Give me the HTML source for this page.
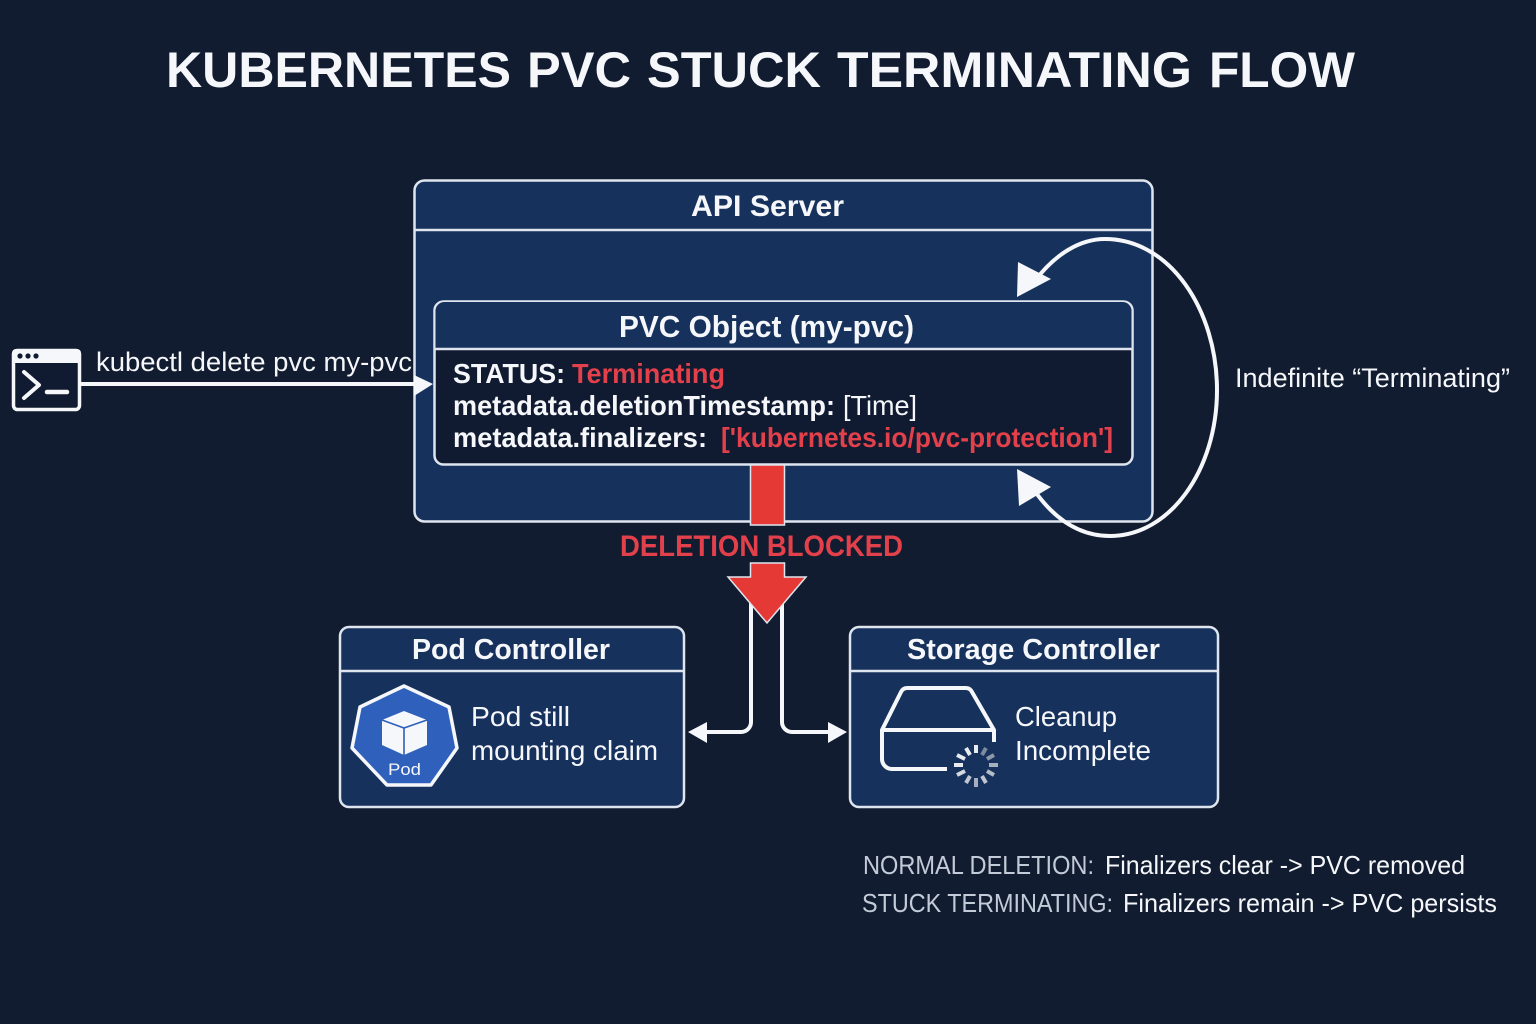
<!DOCTYPE html>
<html>
<head>
<meta charset="utf-8">
<style>
html,body{margin:0;padding:0;background:#121c30;}
svg{display:block;}
text{font-family:"Liberation Sans",sans-serif;fill:#f5f7fa;}
.b{font-weight:bold;}
.r{fill:#e2404a;}
.g{fill:#c3cbd8;}
</style>
</head>
<body>
<svg width="1536" height="1024" viewBox="0 0 1536 1024" xmlns="http://www.w3.org/2000/svg">
<rect width="1536" height="1024" fill="#121c30"/>

<text class="b" font-size="50" y="87"><tspan x="166" textLength="345" lengthAdjust="spacingAndGlyphs">KUBERNETES</tspan> <tspan x="527" textLength="104" lengthAdjust="spacingAndGlyphs">PVC</tspan> <tspan x="647" textLength="174" lengthAdjust="spacingAndGlyphs">STUCK</tspan> <tspan x="837" textLength="355" lengthAdjust="spacingAndGlyphs">TERMINATING</tspan> <tspan x="1209" textLength="146" lengthAdjust="spacingAndGlyphs">FLOW</tspan></text>

<!-- API server -->
<rect x="414.5" y="180.5" width="738" height="341" rx="10" fill="#16315c" stroke="#dfe5ee" stroke-width="2.5"/>
<line x1="415" y1="230" x2="1152" y2="230" stroke="#dfe5ee" stroke-width="2.5"/>
<text class="b" x="691" y="216" font-size="30" textLength="153" lengthAdjust="spacingAndGlyphs">API Server</text>

<!-- PVC -->
<rect x="434.5" y="301.5" width="698" height="163" rx="9" fill="#101a30" stroke="#dfe5ee" stroke-width="2.5"/>
<path d="M435.5 349 V311 a9 9 0 0 1 9 -9 H1122 a9 9 0 0 1 9.5 9 V349 Z" fill="#16315c"/>
<line x1="435" y1="349" x2="1132" y2="349" stroke="#dfe5ee" stroke-width="2.5"/>
<text class="b" x="619" y="337" font-size="31" textLength="295" lengthAdjust="spacingAndGlyphs">PVC Object (my-pvc)</text>
<text class="b" x="453" y="383" font-size="28" textLength="112" lengthAdjust="spacingAndGlyphs">STATUS:</text>
<text class="b r" x="572" y="383" font-size="28" textLength="153" lengthAdjust="spacingAndGlyphs">Terminating</text>
<text class="b" x="453" y="415" font-size="28" textLength="382" lengthAdjust="spacingAndGlyphs">metadata.deletionTimestamp:</text>
<text x="843" y="415" font-size="28" textLength="74" lengthAdjust="spacingAndGlyphs">[Time]</text>
<text class="b" x="453" y="447" font-size="28" textLength="254" lengthAdjust="spacingAndGlyphs">metadata.finalizers:</text>
<text class="b r" x="721" y="447" font-size="28" textLength="392" lengthAdjust="spacingAndGlyphs">['kubernetes.io/pvc-protection']</text>

<!-- terminal icon -->
<rect x="13.5" y="350.5" width="66" height="59" rx="4" fill="#101a30" stroke="#f5f7fa" stroke-width="3.5"/>
<path d="M12 363 V353 a4 4 0 0 1 4 -4 H77 a4 4 0 0 1 4 4 V363 Z" fill="#f5f7fa"/>
<circle cx="20" cy="356" r="2.6" fill="#101a30"/>
<circle cx="28" cy="356" r="2.6" fill="#101a30"/>
<circle cx="36" cy="356" r="2.6" fill="#101a30"/>
<path d="M24 372 L39 385 L24 398" fill="none" stroke="#f5f7fa" stroke-width="4" stroke-linecap="round" stroke-linejoin="round"/>
<line x1="47" y1="392" x2="67" y2="392" stroke="#f5f7fa" stroke-width="4.5" stroke-linecap="round"/>

<text x="96" y="371" font-size="27" textLength="316" lengthAdjust="spacingAndGlyphs">kubectl delete pvc my-pvc</text>
<line x1="80" y1="384" x2="420" y2="384" stroke="#f5f7fa" stroke-width="4"/>
<polygon points="414,375 433,384 414,396" fill="#f5f7fa"/>

<!-- red arrow -->
<rect x="750.5" y="465" width="34" height="60" fill="#e53935" stroke="#dfe5ee" stroke-width="1.5"/>
<text class="b r" x="620" y="556" font-size="30" textLength="283" lengthAdjust="spacingAndGlyphs">DELETION BLOCKED</text>

<!-- branch lines -->
<path d="M751 600 V722 a10 10 0 0 1 -10 10 H704" fill="none" stroke="#f5f7fa" stroke-width="4"/>
<polygon points="688,732 707,722 707,743" fill="#f5f7fa"/>
<path d="M782 600 V722 a10 10 0 0 0 10 10 H830" fill="none" stroke="#f5f7fa" stroke-width="4"/>
<polygon points="847,732 828,722 828,743" fill="#f5f7fa"/>

<polygon points="750.5,563 784.5,563 784.5,577 806,577 767,623 728,577 750.5,577" fill="#e53935" stroke="#dfe5ee" stroke-width="1.5"/>

<!-- Pod Controller -->
<rect x="340" y="627" width="344" height="180" rx="9" fill="#16315c" stroke="#dfe5ee" stroke-width="2.5"/>
<line x1="341" y1="671" x2="683" y2="671" stroke="#dfe5ee" stroke-width="2.5"/>
<text class="b" x="412" y="659" font-size="29" textLength="198" lengthAdjust="spacingAndGlyphs">Pod Controller</text>
<polygon points="404,686 449,707 457,748 431,785 387,785 352,748 360,707" fill="#2f60bb" stroke="#f5f7fa" stroke-width="3.5" stroke-linejoin="round"/>
<polygon points="404,711 427,720 427,745 404,755 382,745 382,720" fill="#f5f7fa"/>
<path d="M382 720 L404 728 L427 720 M404 728 V755" fill="none" stroke="#2f60bb" stroke-width="1.6"/>
<text x="388" y="775" font-size="17" textLength="33" lengthAdjust="spacingAndGlyphs">Pod</text>
<text x="471" y="726" font-size="28" textLength="99" lengthAdjust="spacingAndGlyphs">Pod still</text>
<text x="471" y="760" font-size="28" textLength="187" lengthAdjust="spacingAndGlyphs">mounting claim</text>

<!-- Storage Controller -->
<rect x="850" y="627" width="368" height="180" rx="9" fill="#16315c" stroke="#dfe5ee" stroke-width="2.5"/>
<line x1="851" y1="671" x2="1217" y2="671" stroke="#dfe5ee" stroke-width="2.5"/>
<text class="b" x="907" y="659" font-size="29" textLength="253" lengthAdjust="spacingAndGlyphs">Storage Controller</text>
<path d="M947 769 H892 a10 10 0 0 1 -10 -10 V730 L901 692 a7 7 0 0 1 6 -4 H966 a7 7 0 0 1 6 4 L994 730 V742 M882 730 H994" fill="none" stroke="#f5f7fa" stroke-width="4" stroke-linejoin="round"/>
<g stroke-width="4">
<line x1="976" y1="753" x2="976" y2="745" stroke="#e8ebf0"/>
<line x1="982" y1="755" x2="986" y2="748" stroke="#7f8b9c"/>
<line x1="987" y1="759" x2="994" y2="755" stroke="#8e99a8"/>
<line x1="989" y1="765" x2="998" y2="765" stroke="#a6afbb"/>
<line x1="987" y1="771" x2="994" y2="775" stroke="#b4bcc6"/>
<line x1="982" y1="776" x2="986" y2="783" stroke="#c0c6cf"/>
<line x1="976" y1="778" x2="976" y2="787" stroke="#a6afbb"/>
<line x1="970" y1="776" x2="966" y2="783" stroke="#c0c6cf"/>
<line x1="965" y1="771" x2="957" y2="775" stroke="#d5d9df"/>
<line x1="963" y1="765" x2="954" y2="765" stroke="#e8ebf0"/>
<line x1="965" y1="759" x2="957" y2="755" stroke="#e8ebf0"/>
<line x1="970" y1="755" x2="966" y2="748" stroke="#e8ebf0"/>
</g>
<text x="1015" y="726" font-size="28" textLength="102" lengthAdjust="spacingAndGlyphs">Cleanup</text>
<text x="1015" y="760" font-size="28" textLength="136" lengthAdjust="spacingAndGlyphs">Incomplete</text>

<!-- loop -->
<path d="M1034 282 C1055 254 1080 239 1105 239 C1170 239 1217 310 1217 390 C1217 470 1170 536 1110 536 C1080 536 1055 520 1034 490" fill="none" stroke="#f5f7fa" stroke-width="4"/>
<polygon points="1018,262 1051,279 1017,297" fill="#f5f7fa"/>
<polygon points="1017,469 1051,487 1019,506" fill="#f5f7fa"/>
<text x="1235" y="387" font-size="27" textLength="275" lengthAdjust="spacingAndGlyphs">Indefinite “Terminating”</text>

<!-- notes -->
<text class="g" x="863" y="874" font-size="26" textLength="231" lengthAdjust="spacingAndGlyphs">NORMAL DELETION:</text>
<text x="1105" y="874" font-size="26" textLength="360" lengthAdjust="spacingAndGlyphs">Finalizers clear -&gt; PVC removed</text>
<text class="g" x="862" y="912" font-size="26" textLength="251" lengthAdjust="spacingAndGlyphs">STUCK TERMINATING:</text>
<text x="1123" y="912" font-size="26" textLength="374" lengthAdjust="spacingAndGlyphs">Finalizers remain -&gt; PVC persists</text>
</svg>
</body>
</html>
